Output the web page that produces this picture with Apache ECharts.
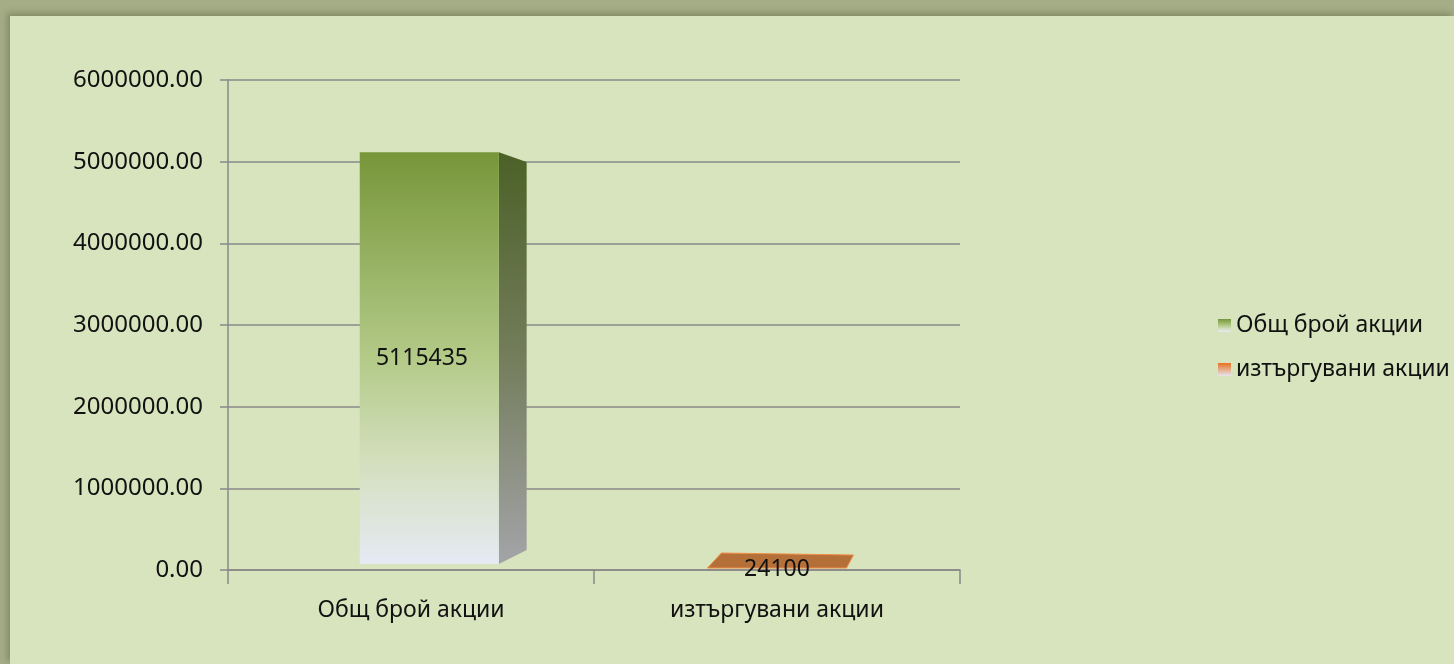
<!DOCTYPE html>
<html>
<head>
<meta charset="utf-8">
<script src="https://cdn.jsdelivr.net/npm/echarts@6/dist/echarts.min.js"></script>
<style>
  html, body { margin: 0; padding: 0; width: 1454px; height: 664px; overflow: hidden; background: #a4ad86; }
  #chart {
    position: absolute; left: 10px; top: 16px; width: 1444px; height: 648px;
    background: #d8e4bd; box-shadow: -3px -3px 6px rgba(90, 100, 60, 0.45);
  }
</style>
</head>
<body>
<div id="chart"></div>
<script>
// категории и стойности
const categories = ['Общ брой акции', 'изтъргувани акции']
const seriesNames = ['Общ брой акции', 'изтъргувани акции']
const totalShares = [5115435]
const tradedShares = [24100]
const yMin = 0
const yMax = 6000000
const yStep = 1000000

const FONT = '"Noto Sans", "DejaVu Sans", sans-serif'

const greenFront = {
  type: 'linear', x: 0, y: 0, x2: 0, y2: 1,
  colorStops: [
    { offset: 0, color: '#779639' },
    { offset: 0.5, color: '#b3ca88' },
    { offset: 0.75, color: '#d3dfbd' },
    { offset: 1, color: '#e6eaf4' }
  ]
}
const greenSide = {
  type: 'linear', x: 0, y: 0, x2: 0, y2: 1,
  colorStops: [
    { offset: 0, color: '#4b6127' },
    { offset: 0.5, color: '#747d5c' },
    { offset: 1, color: '#a3a4a8' }
  ]
}
const orangeFront = {
  type: 'linear', x: 0, y: 0, x2: 0, y2: 1,
  colorStops: [
    { offset: 0, color: '#e8711e' },
    { offset: 1, color: '#e6e6f0' }
  ]
}

// рисува "3D" колона през скалите на оста
const makeRender = (front, side, top) => (params, api) => {
  const cat = api.value(0)
  const val = api.value(1)
  const pTop = api.coord([cat, val])
  const pBase = api.coord([cat, 0])
  const band = api.size([1, 0])[0]
  const bw = band * 0.38
  const x0 = pTop[0] - bw / 2 + band * 0.05
  const x1 = x0 + bw
  const y0 = pTop[1]
  const y1 = pBase[1] - 6
  const h = y1 - y0
  const children = []
  let lx = pTop[0] + band * 0.03
  let ly = (y0 + y1) / 2
  if (h > 20) {
    const d = bw * 0.2
    children.push({
      type: 'polygon',
      shape: { points: [[x1, y0], [x1 + d, y0 + d * 0.35], [x1 + d, y1 - d * 0.5], [x1, y1]] },
      style: { fill: side }
    })
    children.push({
      type: 'rect',
      shape: { x: x0, y: y0, width: bw, height: h },
      style: { fill: front }
    })
  } else {
    // плоска колона: вижда се само горната страна
    const sk = bw * 0.1
    const fx0 = x0 - band * 0.05
    const fx1 = fx0 + bw
    const yb = pBase[1] - 2
    children.push({
      type: 'polygon',
      shape: { points: [[fx0, yb], [fx0 + sk, yb - 15], [fx1 + sk * 0.5, yb - 13], [fx1, yb]] },
      style: { fill: top, stroke: '#f08d45', lineWidth: 1 }
    })
    lx = pTop[0]
    ly = pBase[1] - 1
  }
  children.push({
    type: 'text',
    style: {
      text: String(val), x: lx, y: ly,
      align: 'center', verticalAlign: 'middle',
      font: '23px ' + FONT, fill: '#111'
    }
  })
  return { type: 'group', children }
}

const chart = echarts.init(document.getElementById('chart'))

const option = {
  animation: false,
  textStyle: { fontFamily: FONT },
  grid: { left: 218, right: 494, top: 64, bottom: 94 },
  legend: {
    orient: 'vertical',
    left: 1203,
    top: 293,
    itemWidth: 13,
    itemHeight: 13,
    itemGap: 21,
    icon: 'rect',
    textStyle: { fontSize: 23, color: '#111', fontFamily: FONT },
    data: seriesNames
  },
  xAxis: {
    type: 'category',
    data: categories,
    axisLine: { lineStyle: { color: '#888', width: 1.5 } },
    axisTick: { show: true, alignWithLabel: false, length: 14, lineStyle: { color: '#888', width: 1.5 } },
    axisLabel: { fontSize: 23, color: '#111', margin: 29, fontFamily: FONT }
  },
  yAxis: {
    type: 'value',
    min: yMin,
    max: yMax,
    interval: yStep,
    axisLine: { show: true, lineStyle: { color: '#888', width: 1.5 } },
    axisTick: { show: true, length: 8, lineStyle: { color: '#888', width: 1.5 } },
    splitLine: { lineStyle: { color: '#8a8a8a', width: 1.5 } },
    axisLabel: {
      fontSize: 24, color: '#111', margin: 25, fontFamily: FONT,
      formatter: v => v.toFixed(2)
    }
  },
  series: [
    {
      name: seriesNames[0],
      type: 'custom',
      itemStyle: { color: greenFront },
      renderItem: makeRender(greenFront, greenSide, '#b5703a'),
      data: totalShares.map((v, i) => [i, v])
    },
    {
      name: seriesNames[1],
      type: 'custom',
      itemStyle: { color: orangeFront },
      renderItem: makeRender(orangeFront, '#9a5a2a', '#b5703a'),
      data: tradedShares.map((v, i) => [i + 1, v])
    }
  ]
}

chart.setOption(option)
</script>
</body>
</html>
